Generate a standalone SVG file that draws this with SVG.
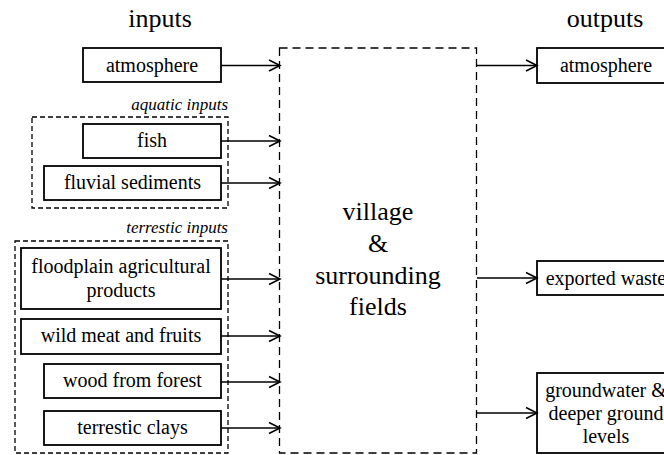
<svg xmlns="http://www.w3.org/2000/svg" width="664" height="455" viewBox="0 0 664 455">
<defs>
<marker id="ah" markerUnits="userSpaceOnUse" markerWidth="14" markerHeight="14" viewBox="-12 -7 14 14" refX="0" refY="0" orient="auto">
<path d="M-11,-5.5 L0,0 L-11,5.5" fill="none" stroke="#000" stroke-width="1.6"/>
</marker>
</defs>
<g id="titles">
<text x="160" y="27" font-family="Liberation Serif" font-size="26" text-anchor="middle"><tspan font-family="Liberation Serif, Times New Roman, serif">inputs</tspan></text>
<text x="605" y="27" font-family="Liberation Serif" font-size="26" text-anchor="middle"><tspan font-family="Liberation Serif, Times New Roman, serif">outputs</tspan></text>
</g>
<g id="aquatic-group">
<rect x="32" y="117" width="196" height="91" fill="none" stroke="#000" stroke-width="1.3" stroke-dasharray="5 3"/>
<text x="228" y="110" font-family="Liberation Serif" font-size="17" font-style="italic" text-anchor="end"><tspan font-family="Liberation Serif, Times New Roman, serif">aquatic inputs</tspan></text>
</g>
<g id="terrestic-group">
<rect x="15" y="241" width="213" height="212" fill="none" stroke="#000" stroke-width="1.3" stroke-dasharray="5 3"/>
<text x="228" y="233" font-family="Liberation Serif" font-size="17" font-style="italic" text-anchor="end"><tspan font-family="Liberation Serif, Times New Roman, serif">terrestic inputs</tspan></text>
</g>
<g id="village">
<rect x="279.5" y="48" width="197" height="405" fill="none" stroke="#000" stroke-width="1.3" stroke-dasharray="8 5"/>
<text x="378" y="220" font-family="Liberation Serif" font-size="26" text-anchor="middle"><tspan font-family="Liberation Serif, Times New Roman, serif">village</tspan></text>
<text x="378" y="252" font-family="Liberation Serif" font-size="26" text-anchor="middle"><tspan font-family="Liberation Serif, Times New Roman, serif">&amp;</tspan></text>
<text x="378" y="284" font-family="Liberation Serif" font-size="26" text-anchor="middle"><tspan font-family="Liberation Serif, Times New Roman, serif">surrounding</tspan></text>
<text x="378" y="315" font-family="Liberation Serif" font-size="26" text-anchor="middle"><tspan font-family="Liberation Serif, Times New Roman, serif">fields</tspan></text>
</g>
<g id="in-atmosphere">
<rect x="83" y="48" width="138" height="34" fill="#fff" stroke="#000" stroke-width="1.8"/>
<text x="152" y="72" font-family="Liberation Serif" font-size="20" text-anchor="middle"><tspan font-family="Liberation Serif, Times New Roman, serif">atmosphere</tspan></text>
</g>
<g id="fish">
<rect x="83" y="124" width="138" height="34" fill="#fff" stroke="#000" stroke-width="1.8"/>
<text x="152" y="147" font-family="Liberation Serif" font-size="20" text-anchor="middle"><tspan font-family="Liberation Serif, Times New Roman, serif">fish</tspan></text>
</g>
<g id="fluvial">
<rect x="44" y="166" width="177" height="34" fill="#fff" stroke="#000" stroke-width="1.8"/>
<text x="132.5" y="189" font-family="Liberation Serif" font-size="20" text-anchor="middle"><tspan font-family="Liberation Serif, Times New Roman, serif">fluvial sediments</tspan></text>
</g>
<g id="floodplain">
<rect x="21" y="248" width="200" height="61" fill="#fff" stroke="#000" stroke-width="1.8"/>
<text x="121" y="273" font-family="Liberation Serif" font-size="20" text-anchor="middle"><tspan font-family="Liberation Serif, Times New Roman, serif">floodplain agricultural</tspan></text>
<text x="121" y="297" font-family="Liberation Serif" font-size="20" text-anchor="middle"><tspan font-family="Liberation Serif, Times New Roman, serif">products</tspan></text>
</g>
<g id="wild-meat">
<rect x="21" y="319" width="200" height="35" fill="#fff" stroke="#000" stroke-width="1.8"/>
<text x="121" y="342" font-family="Liberation Serif" font-size="20" text-anchor="middle"><tspan font-family="Liberation Serif, Times New Roman, serif">wild meat and fruits</tspan></text>
</g>
<g id="wood">
<rect x="44" y="364" width="177" height="34" fill="#fff" stroke="#000" stroke-width="1.8"/>
<text x="132.5" y="387" font-family="Liberation Serif" font-size="20" text-anchor="middle"><tspan font-family="Liberation Serif, Times New Roman, serif">wood from forest</tspan></text>
</g>
<g id="clays">
<rect x="44" y="411" width="177" height="34" fill="#fff" stroke="#000" stroke-width="1.8"/>
<text x="132.5" y="434" font-family="Liberation Serif" font-size="20" text-anchor="middle"><tspan font-family="Liberation Serif, Times New Roman, serif">terrestic clays</tspan></text>
</g>
<g id="out-atmosphere">
<rect x="537" y="48" width="140" height="35" fill="#fff" stroke="#000" stroke-width="1.8"/>
<text x="606" y="72" font-family="Liberation Serif" font-size="20" text-anchor="middle"><tspan font-family="Liberation Serif, Times New Roman, serif">atmosphere</tspan></text>
</g>
<g id="exported-waste">
<rect x="537" y="261" width="140" height="34" fill="#fff" stroke="#000" stroke-width="1.8"/>
<text x="606" y="285" font-family="Liberation Serif" font-size="20" text-anchor="middle"><tspan font-family="Liberation Serif, Times New Roman, serif">exported waste</tspan></text>
</g>
<g id="groundwater">
<rect x="537" y="373" width="140" height="80" fill="#fff" stroke="#000" stroke-width="1.8"/>
<text x="606" y="397" font-family="Liberation Serif" font-size="20" text-anchor="middle"><tspan font-family="Liberation Serif, Times New Roman, serif">groundwater &amp;</tspan></text>
<text x="606" y="420" font-family="Liberation Serif" font-size="20" text-anchor="middle"><tspan font-family="Liberation Serif, Times New Roman, serif">deeper ground</tspan></text>
<text x="606" y="443" font-family="Liberation Serif" font-size="20" text-anchor="middle"><tspan font-family="Liberation Serif, Times New Roman, serif">levels</tspan></text>
</g>
<g id="connectors" fill="none" stroke="#000" stroke-width="1.6" marker-end="url(#ah)">
<line x1="221" y1="65.5" x2="280" y2="65.5"/>
<line x1="221" y1="141" x2="280" y2="141"/>
<line x1="221" y1="183" x2="280" y2="183"/>
<line x1="221" y1="279" x2="280" y2="279"/>
<line x1="221" y1="336" x2="280" y2="336"/>
<line x1="221" y1="382" x2="280" y2="382"/>
<line x1="221" y1="428" x2="280" y2="428"/>
<line x1="477" y1="65.5" x2="537" y2="65.5"/>
<line x1="477" y1="278" x2="537" y2="278"/>
<line x1="477" y1="413" x2="537" y2="413"/>
</g>
</svg>
